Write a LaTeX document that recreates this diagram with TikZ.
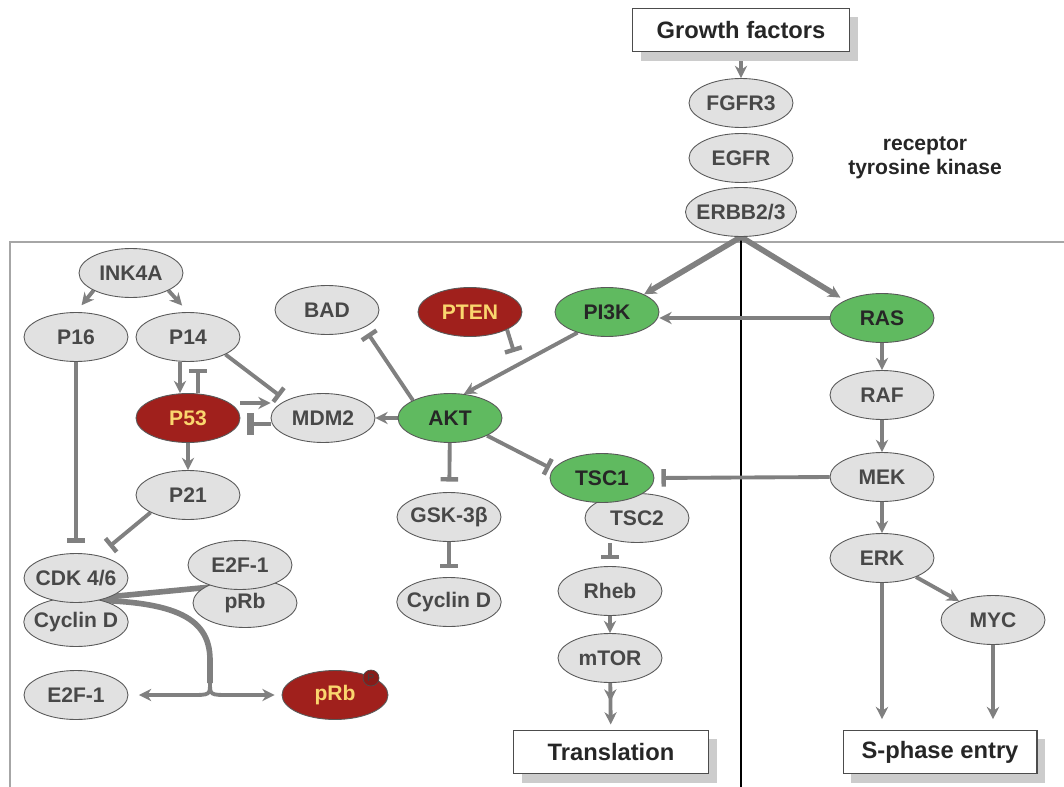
\documentclass[tikz,border=0pt]{standalone}
\usepackage{fontspec}
\setmainfont{Liberation Sans}
\usetikzlibrary{arrows.meta,shapes.geometric,calc,backgrounds}
\definecolor{linkgray}{RGB}{128,128,128}
\definecolor{protfill}{RGB}{225,225,225}
\definecolor{protred}{RGB}{160,32,28}
\definecolor{protgreen}{RGB}{96,186,96}
\definecolor{labelgray}{RGB}{72,72,72}
\definecolor{labelyellow}{RGB}{250,214,110}

\begin{document}
\begin{tikzpicture}[x=0.02cm, y=-0.02cm, >={Stealth[length=7pt,width=7pt]},
  font=\fontsize{12}{14}\selectfont\bfseries,
  prot/.style={ellipse, draw=black!65, line width=0.5pt, fill=protfill, text=labelgray,
    inner xsep=-3pt, inner ysep=0pt, minimum width=2.08cm, minimum height=0.98cm},
  onco/.style={prot, fill=protred, text=labelyellow},
  kin/.style={prot, fill=protgreen, text=black!85},
  link/.style={draw=linkgray, line width=2.2pt},
  heavy/.style={draw=linkgray, line width=3.2pt},
  inh/.style={-{Bar[width=10pt,line width=2.5pt]}},
  outcome/.style={draw=black!70, fill=white, line width=0.6pt, minimum height=0.87cm,
    font=\fontsize{13.5}{16}\selectfont\bfseries, text=black!85}]

\useasboundingbox (0,0) rectangle (1064,787);

% outcome boxes with their shadow
\foreach \nm/\x/\y/\w/\lbl in {growth/741/30/4.34/{Growth factors},
    transl/611/752/3.9/{Translation}, sphase/940/752/3.88/{S-phase entry}}{
  \fill[gray!40] (\x-\w*25+8,\y-13) rectangle (\x+\w*25+8,\y+31);
  \node[outcome, minimum width=\w cm] (\nm) at (\x,\y) {\lbl};
}

\node[align=center, font=\fontsize{12}{14}\selectfont\bfseries, text=black!85] (rtk) at (925,158)
  {receptor\\tyrosine kinase};

% plain proteins
\foreach \nm/\x/\y/\lbl in {
    FGFR/741/103/FGFR3, EGFR/741/158/EGFR, ERBB/741/212/{ERBB2/3},
    INK/131/273/INK4A, P16/76/337/P16, P14/188/337/P14,
    BAD/327/310/BAD, MDM/323/418/MDM2, RAF/882/395/RAF,
    TSCtwo/637/518/TSC2, MEK/882/477/MEK, P21/188/495/P21,
    GSK/449/517/GSK-3β, ERK/882/558/ERK, MYC/993/620/MYC,
    CycD/76/622/{Cyclin D}, CDK/76/578/{CDK 4/6},
    pRbc/245/603/pRb, E2Fa/240/565/E2F-1,
    CycDb/449/602/{Cyclin D}, Rheb/610/591/Rheb, mTOR/610/658/mTOR,
    E2Fb/76/695/E2F-1}{
  \node[prot] (\nm) at (\x,\y) {\lbl};
}

% mutated / activated proteins
\node[onco] (PTEN) at (470,312) {PTEN};
\node[kin] (PIK) at (607,312) {PI3K};
\node[kin] (RAS) at (882,318) {RAS};
\node[onco] (P53) at (188,418) {P53};
\node[kin] (AKT) at (450,418) {AKT};
\node[kin] (TSCone) at (602,478) {TSC1};
\node[onco, minimum width=2.12cm] (pRbp) at (335,695) {pRb};
\node[circle, draw=black!70, fill=protred!85!black, inner sep=0pt, minimum size=0.32cm,
  font=\fontsize{6}{6}\selectfont, text=black!75] (phos) at (371,678) {P};

\coordinate (ptenhit) at (514,352);
\coordinate (cdkjoin) at ($(CDK)!0.5!(CycD)$);
\coordinate (rbjoin) at ($(E2Fa)!0.5!(pRbc)$);
\coordinate (fork) at (210,683);

\begin{scope}[on background layer]
% frame
\draw[gray!70, line width=1pt] (10,787) -- (10,242) -- (1064,242);
\draw[black, line width=0.8pt] (ERBB.south) -- (ERBB.south |- 0,787);

% receptor branch
\draw[link,->] (growth) -- (FGFR);
\draw[heavy,->] (ERBB.south) -- (PIK.north east);
\draw[heavy,->,shorten >=3pt] (ERBB.south) -- (RAS.north west);
\draw[link,->] (RAS.west) -- (PIK.east |- RAS.west);
\draw[link,->] (PIK.215) -- (AKT.60);
\draw[link,inh] (PTEN.south east) -- (ptenhit);

% AKT targets
\draw[link,inh,shorten >=4pt] (AKT.north west) -- (BAD.south east);
\draw[link,->] (AKT) -- (MDM);
\draw[link,inh,shorten >=2pt] (AKT.south east) -- (TSCone.170);
\draw[link,inh,shorten >=6pt] (AKT) -- (GSK);
\draw[link,inh,shorten >=5pt] (GSK) -- (CycDb);
\draw[link,inh,shorten >=4pt] (MEK.west) -- (TSCone.east);
\draw[link,inh,shorten >=4pt] (TSCtwo.south -| Rheb.north) -- (Rheb.north);
\draw[link,->] (Rheb) -- (mTOR);
\draw[link,-{Stealth[length=7pt,width=7pt,sep=6pt]Stealth[length=7pt,width=7pt]},
  shorten >=3pt] (mTOR) -- (transl);

% MAPK branch
\draw[link,->] (RAS) -- (RAF);
\draw[link,->] (RAF) -- (MEK);
\draw[link,->] (MEK) -- (ERK);
\draw[link,->] (ERK) -- (MYC);
\draw[link,->,shorten >=6pt] (ERK.south) -- (ERK.south |- sphase.north);
\draw[link,->,shorten >=6pt] (MYC.south) -- (MYC.south |- sphase.north);

% cell cycle
\draw[link,->,shorten >=5pt] (INK.205) -- (P16.north);
\draw[link,->,shorten >=5pt] (INK.-25) -- (P14.north);
\draw[link,->] ([xshift=-0.16cm]P14.south) -- ([xshift=-0.16cm]P53.north);
\draw[link,inh,shorten >=4pt] ([xshift=0.2cm]P53.north) -- ([xshift=0.2cm]P14.south);
\draw[link,inh,shorten >=4pt] (P14.-25) -- (MDM.north west);
\draw[link,->] ([yshift=0.3cm]P53.east) -- ([yshift=0.3cm]MDM.west);
\draw[link,-{Bar[width=12pt,line width=3.5pt]},shorten >=4pt]
  ([yshift=-0.12cm]MDM.west) -- ([yshift=-0.12cm]P53.east);
\draw[link,->] (P53) -- (P21);
\draw[link,inh,shorten >=6pt] (P16) -- (CDK);
\draw[link,inh,shorten >=8pt] (P21.205) -- (CDK.45);
\draw[heavy] (cdkjoin) -- (rbjoin);
\draw[heavy] (cdkjoin) .. controls (170,600) and (210,615) .. (210,660) -- (fork);
\draw[link,->,shorten >=6pt] (fork) .. controls (210,695) .. (190,695) -- (E2Fb.east);
\draw[link,->,shorten >=4pt] (fork) .. controls (210,695) .. (230,695) -- (pRbp.west);
\end{scope}
\end{tikzpicture}
\end{document}
